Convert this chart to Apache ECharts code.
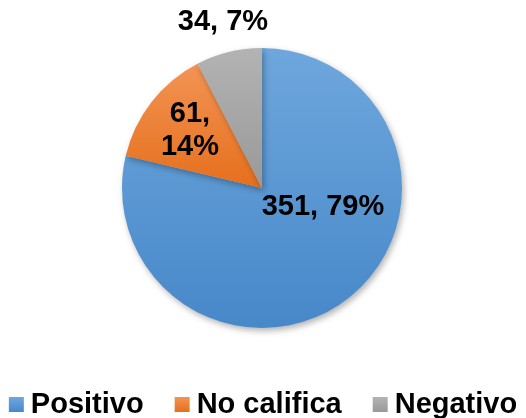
<!DOCTYPE html>
<html>
<head>
<meta charset="utf-8">
<script src="https://cdn.jsdelivr.net/npm/echarts@6/dist/echarts.min.js"></script>
<style>
  html, body { margin: 0; padding: 0; background: #fff; }
  #chart { width: 526px; height: 418px; }
</style>
</head>
<body>
<div id="chart"></div>
<script>
const categories = ['Positivo', 'No califica', 'Negativo']
const values = [351, 61, 34]
const percents = [79, 14, 7]

// Office-like vertical gradients (top -> bottom)
const colorsTop = ['#6ea7dd', '#f29455', '#b3b3b3']
const colorsBottom = ['#4788c9', '#e66f1c', '#999999']

// where Excel put each label (pixels)
const labelSpots = [[323, 207], [190, 130], [223, 22]]

const chart = echarts.init(document.getElementById('chart'))

const option = {
  animation: false,
  textStyle: { fontFamily: 'Liberation Sans, Arial, sans-serif' },
  legend: {
    bottom: -6,
    left: 'center',
    icon: 'rect',
    itemWidth: 15,
    itemHeight: 15,
    itemGap: 31,
    textStyle: {
      fontSize: 29,
      fontWeight: 'bold',
      color: '#000',
      padding: [0, 0, 0, 2]
    },
    data: categories
  },
  series: [
    {
      type: 'pie',
      center: [262, 188],
      radius: 140,
      startAngle: 90,
      clockwise: true,
      itemStyle: {
        borderWidth: 0,
        shadowBlur: 6,
        shadowOffsetX: 2,
        shadowOffsetY: 3,
        shadowColor: 'rgba(0,0,0,0.3)'
      },
      label: {
        show: true,
        position: 'inside',
        fontSize: 29,
        fontWeight: 'bold',
        color: '#000',
        lineHeight: 33,
        formatter: p => {
          const i = p.dataIndex
          return i === 1
            ? values[i] + ',\n' + percents[i] + '%'
            : values[i] + ', ' + percents[i] + '%'
        }
      },
      labelLine: { show: false },
      labelLayout: p => ({
        x: labelSpots[p.dataIndex][0],
        y: labelSpots[p.dataIndex][1],
        align: 'center',
        verticalAlign: 'middle'
      }),
      emphasis: { disabled: true },
      data: categories.map((name, i) => ({
        name: name,
        value: values[i],
        itemStyle: {
          color: new echarts.graphic.LinearGradient(0, 0, 0, 1, [
            { offset: 0, color: colorsTop[i] },
            { offset: 1, color: colorsBottom[i] }
          ])
        }
      }))
    }
  ]
}

chart.setOption(option)
</script>
</body>
</html>
